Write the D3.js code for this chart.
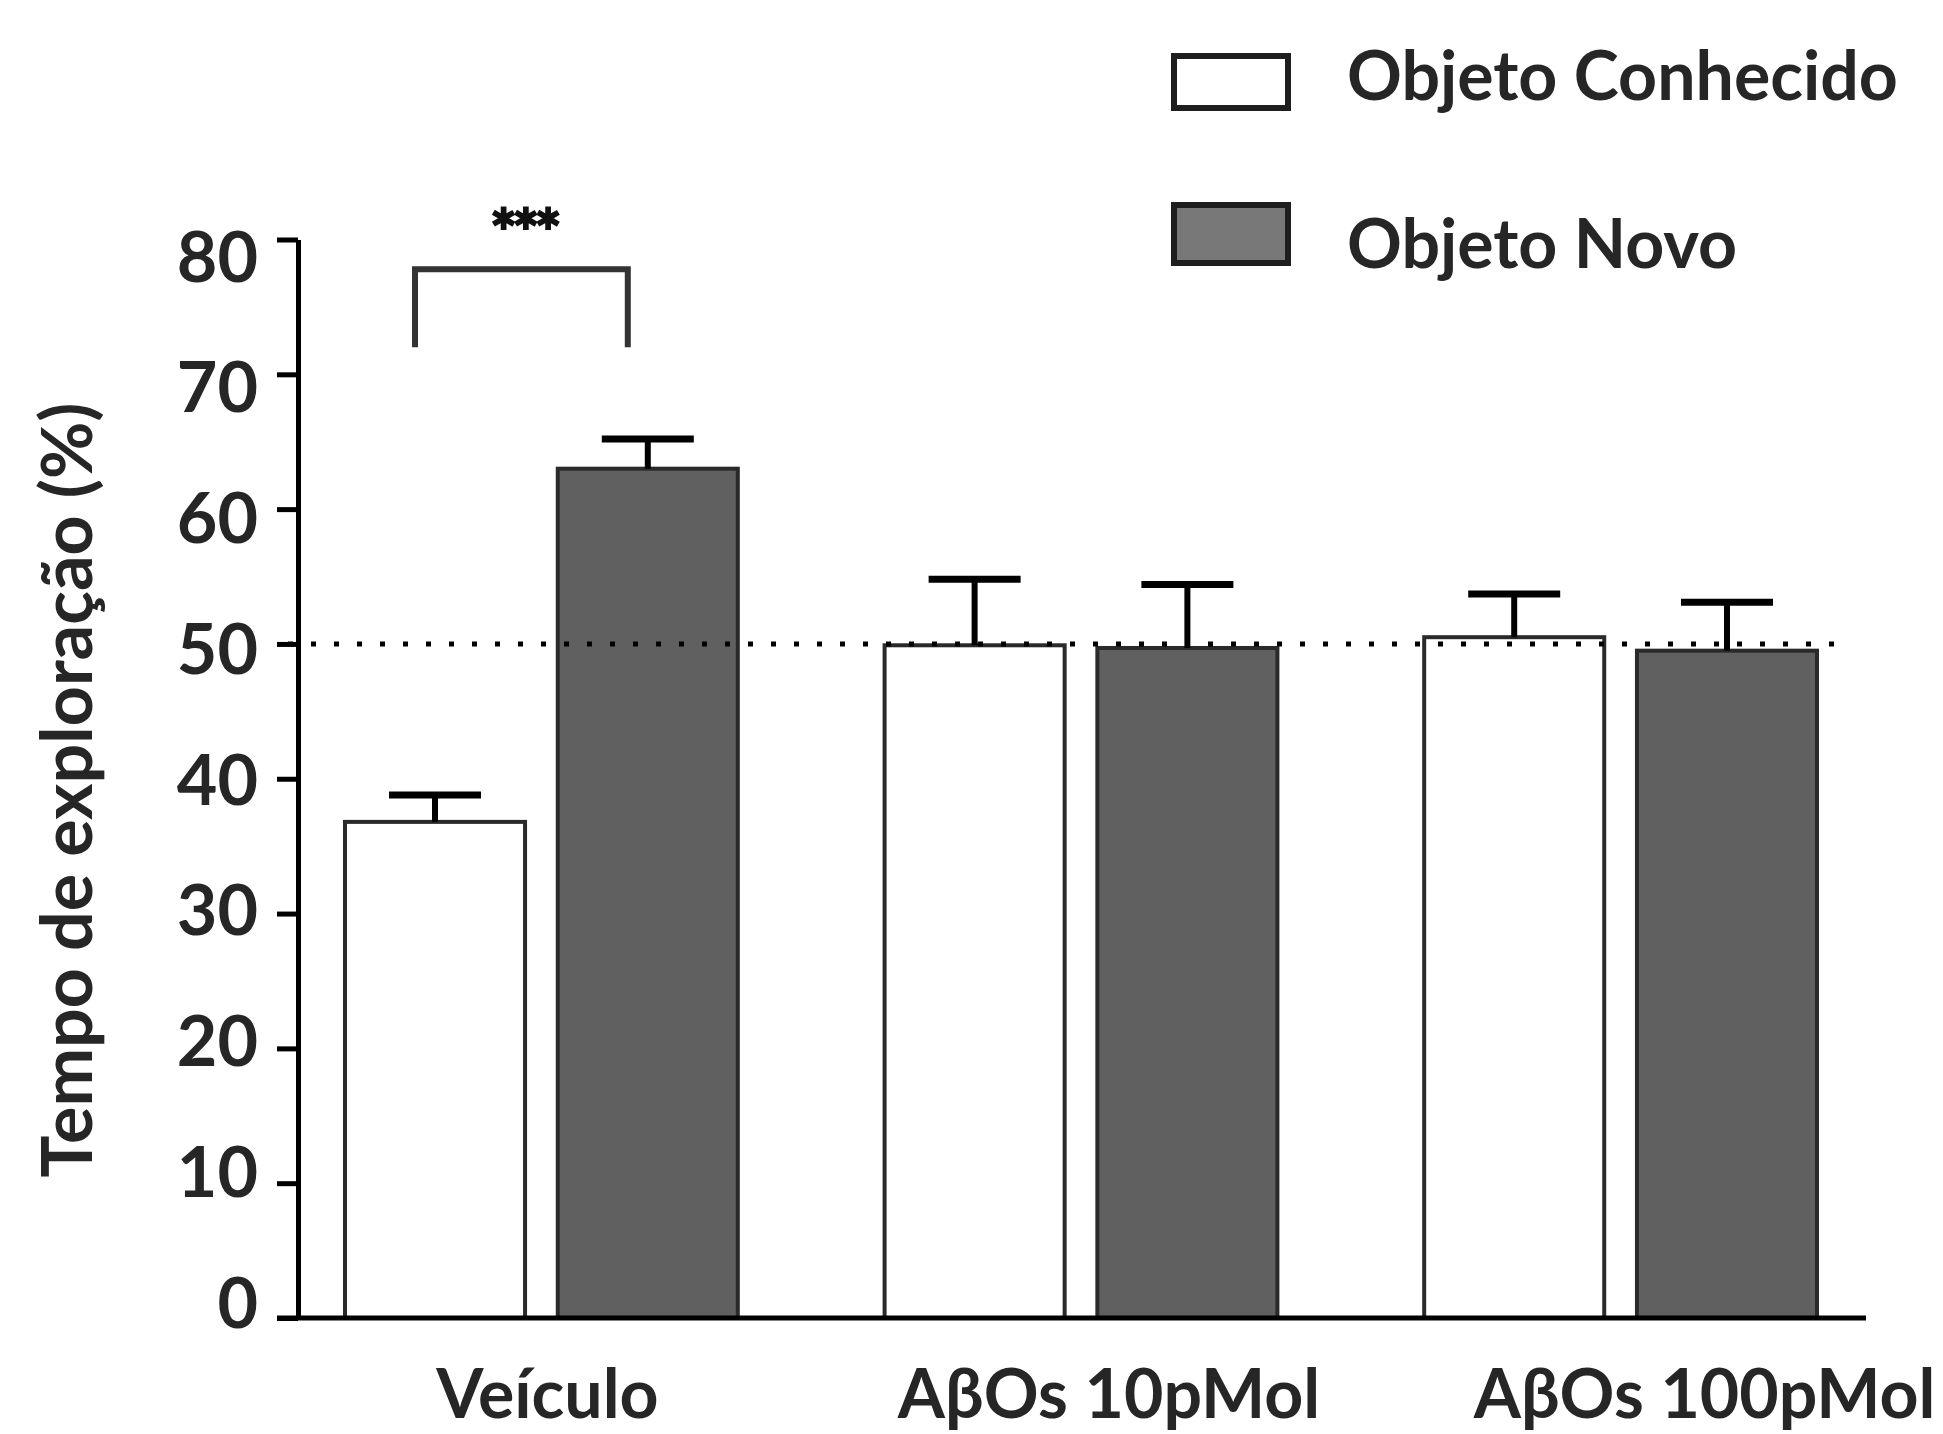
<!DOCTYPE html>
<html>
<head>
<meta charset="utf-8">
<script src="https://cdn.jsdelivr.net/npm/d3@7"></script>
<style>
  html, body { margin: 0; padding: 0; background: #fff; }
  text { font-family: Lato, "Open Sans", sans-serif; font-weight: bold; fill: #262626; }
</style>
</head>
<body>
<svg id="js-svg" width="1943" height="1434"></svg>
<script>
// data
const groups = ["Veículo", "AβOs 10pMol", "AβOs 100pMol"];
const series = ["Objeto Conhecido", "Objeto Novo"];
const conhecido = [36.8, 49.9, 50.5];
const conhecidoErr = [2.0, 4.9, 3.2];
const novo = [63.0, 49.7, 49.5];
const novoErr = [2.2, 4.7, 3.6];
const yTicks = [0, 10, 20, 30, 40, 50, 60, 70, 80];
const chance = 50;
const bracket = [72.0, 77.8]; // leg bottom, bracket top (y units)

const width = 1943;
const height = 1434;

const rows = groups.map((g, i) => ({
  group: g,
  values: [
    { key: series[0], v: conhecido[i], e: conhecidoErr[i] },
    { key: series[1], v: novo[i], e: novoErr[i] },
  ],
}));

const fill = d3.scaleOrdinal().domain(series).range(["#ffffff", "#606060"]);

const svg = d3.select("#js-svg");

const y = d3.scaleLinear().domain([0, 80]).range([1318, 239.5]);
// the tick labels in the original sit on a slightly tighter spacing than the ticks
const yLab = d3.scaleLinear().domain([0, 80]).range([1302, 256]);

const x0 = d3.scaleBand().domain(groups).range([343, 1819]).paddingInner(0.2646).paddingOuter(0);
const x1 = d3.scaleBand().domain(series).range([0, x0.bandwidth()]).paddingInner(0.135);

// small per-label horizontal nudges, as in the original layout
const labelNudge = [6, 28, 84];

// y axis
const yAxis = svg.append("g")
  .attr("class", "y axis")
  .attr("transform", "translate(298,0)")
  .call(d3.axisLeft(y).tickValues(yTicks).tickSize(21).tickSizeOuter(0).tickPadding(19));

yAxis.select(".domain").attr("stroke", "#000").attr("stroke-width", 5);
yAxis.selectAll(".tick line").attr("stroke", "#000").attr("stroke-width", 5);
yAxis.selectAll(".tick text")
  .attr("font-size", 70)
  .attr("fill", "#262626")
  .attr("font-family", "Lato, sans-serif")
  .attr("font-weight", "bold")
  .attr("y", (d) => yLab(d) - y(d))
  .attr("dy", "0.36em");

// bars
const gGroups = svg.append("g").selectAll("g")
  .data(rows)
  .join("g")
  .attr("transform", (d) => `translate(${x0(d.group)},0)`);

gGroups.selectAll("rect")
  .data((d) => d.values)
  .join("rect")
  .attr("x", (d) => x1(d.key) + 2)
  .attr("y", (d) => y(d.v))
  .attr("width", x1.bandwidth() - 4)
  .attr("height", (d) => y(0) - y(d.v))
  .attr("fill", (d) => fill(d.key))
  .attr("stroke", "#2a2a2a")
  .attr("stroke-width", 4);

// dotted chance line
svg.append("line")
  .attr("x1", 288)
  .attr("x2", 1836)
  .attr("y1", y(chance))
  .attr("y2", y(chance))
  .attr("stroke", "#000")
  .attr("stroke-width", 5)
  .attr("stroke-dasharray", "5 18");

// error bars (upper only)
const err = gGroups.selectAll("g.err")
  .data((d) => d.values)
  .join("g")
  .attr("class", "err");

err.append("line")
  .attr("x1", (d) => x1(d.key) + x1.bandwidth() / 2)
  .attr("x2", (d) => x1(d.key) + x1.bandwidth() / 2)
  .attr("y1", (d) => y(d.v))
  .attr("y2", (d) => y(d.v + d.e))
  .attr("stroke", "#000")
  .attr("stroke-width", 6);

err.append("line")
  .attr("x1", (d) => x1(d.key) + x1.bandwidth() / 2 - 46)
  .attr("x2", (d) => x1(d.key) + x1.bandwidth() / 2 + 46)
  .attr("y1", (d) => y(d.v + d.e))
  .attr("y2", (d) => y(d.v + d.e))
  .attr("stroke", "#000")
  .attr("stroke-width", 7);

// x axis
svg.append("line")
  .attr("x1", 277)
  .attr("x2", 1866)
  .attr("y1", y(0))
  .attr("y2", y(0))
  .attr("stroke", "#000")
  .attr("stroke-width", 5);

const xAxis = svg.append("g")
  .attr("class", "x axis")
  .attr("transform", `translate(0,${y(0)})`)
  .call(d3.axisBottom(x0).tickSize(0).tickSizeOuter(0).tickPadding(0));

xAxis.select(".domain").remove();
xAxis.selectAll(".tick text")
  .attr("font-size", 68)
  .attr("fill", "#262626")
  .attr("font-family", "Lato, sans-serif")
  .attr("font-weight", "bold")
  .attr("dy", 0)
  .attr("y", 100)
  .attr("x", (d, i) => labelNudge[i]);

// significance bracket over Veículo
const cA = x0(groups[0]) + x1(series[0]) + x1.bandwidth() / 2 - 20;
const cB = x0(groups[0]) + x1(series[1]) + x1.bandwidth() / 2 - 20;
svg.append("path")
  .attr("d", `M${cA},${y(bracket[0])}V${y(bracket[1])}H${cB}V${y(bracket[0])}`)
  .attr("fill", "none")
  .attr("stroke", "#333")
  .attr("stroke-width", 6);

svg.append("text")
  .attr("x", (cA + cB) / 2 + 2)
  .attr("y", 256)
  .attr("text-anchor", "middle")
  .attr("font-family", "DejaVu Sans, sans-serif")
  .attr("font-weight", "bold")
  .attr("font-size", 64)
  .attr("letter-spacing", -5)
  .style("fill", "#111")
  .style("stroke", "#111")
  .style("stroke-width", 2)
  .text("***");

// y axis title
svg.append("text")
  .attr("transform", "translate(92,790) rotate(-90)")
  .attr("text-anchor", "middle")
  .attr("font-size", 70)
  .text("Tempo de exploração (%)");

// legend
const legend = svg.append("g").selectAll("g")
  .data(series)
  .join("g")
  .attr("transform", (d, i) => `translate(0,${i === 0 ? 0 : 150})`);

legend.append("rect")
  .attr("x", 1174)
  .attr("y", (d, i) => (i === 0 ? 56 : 55))
  .attr("width", 114)
  .attr("height", (d, i) => (i === 0 ? 52 : 58))
  .attr("fill", (d, i) => (i === 0 ? "#fff" : "#787878"))
  .attr("stroke", "#1e1e1e")
  .attr("stroke-width", 6);

legend.append("text")
  .attr("x", 1347)
  .attr("y", (d, i) => (i === 0 ? 100 : 118))
  .attr("font-size", 68)
  .text((d) => d);
</script>
</body>
</html>
